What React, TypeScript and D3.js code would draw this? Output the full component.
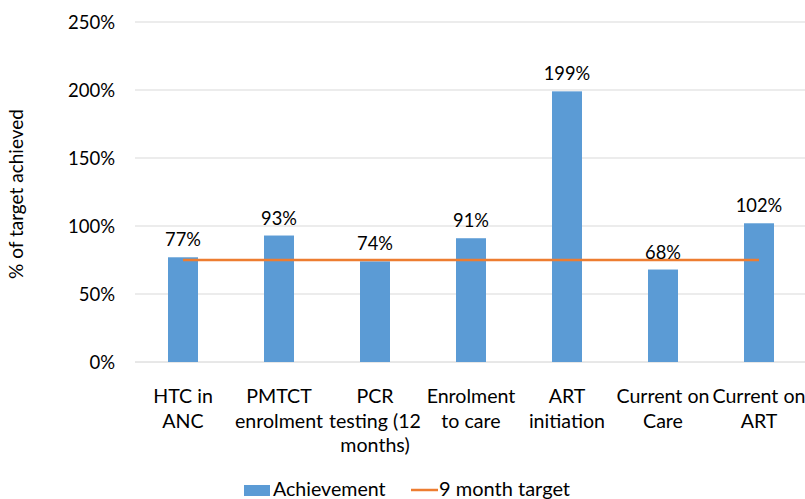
import * as d3 from "d3";

const categories = [
    "HTC in\nANC",
    "PMTCT\nenrolment",
    "PCR\ntesting (12\nmonths)",
    "Enrolment\nto care",
    "ART\ninitiation",
    "Current on\nCare",
    "Current on\nART",
];
const achievement = [77, 93, 74, 91, 199, 68, 102];
const target = [75, 75, 75, 75, 75, 75, 75];
const yTicks = [0, 50, 100, 150, 200, 250];

const font = "Lato, 'Open Sans', sans-serif";

function App() {
    const width = 805
    const height = 499
    const plot = { left: 135, right: 807, top: 22, bottom: 362 }

    const x = d3.scaleBand().domain(categories).range([plot.left, plot.right]).padding(0)
    const y = d3.scaleLinear().domain([0, 250]).range([plot.bottom, plot.top])
    const barWidth = x.bandwidth() * 0.3125
    const center = (c: string) => x(c)! + x.bandwidth() / 2

    const targetLine = d3.line<number>()
        .x((_, i) => center(categories[i]))
        .y((d) => y(d))

    return (
        <svg width={width} height={height} style={{ position: "absolute", left: 0, top: 0, background: "#ffffff" }} fontFamily={font}>
            {yTicks.map((t) => (
                <g key={t}>
                    <line x1={plot.left} x2={plot.right} y1={y(t)} y2={y(t)} stroke={t === 0 ? "#d0d0d0" : "#d9d9d9"} strokeWidth={1}/>
                    <text x={115} y={y(t)} dy="0.36em" textAnchor="end" fontSize={18.5} fill="#000">{t}%</text>
                </g>
            ))}

            {categories.map((c, i) => (
                <rect key={c} x={center(c) - barWidth / 2} y={y(achievement[i])} width={barWidth} height={y(0) - y(achievement[i])} fill="#5b9bd5"/>
            ))}

            <path d={targetLine(target)!} fill="none" stroke="#ed7d31" strokeWidth={2.5}/>

            {categories.map((c, i) => (
                <text key={c} x={center(c)} y={y(achievement[i]) - 11} textAnchor="middle" fontSize={18.3}>{achievement[i]}%</text>
            ))}

            {categories.map((c) => (
                <text key={c} x={center(c)} y={403} textAnchor="middle" fontSize={19.6}>
                    {c.split("\n").map((line, j) => (
                        <tspan key={j} x={center(c)} y={403 + j * 24.5}>{line}</tspan>
                    ))}
                </text>
            ))}

            <text transform={`translate(23, 194) rotate(-90)`} textAnchor="middle" fontSize={19}>% of target achieved</text>

            {/* Legend */}
            <rect x={244} y={485} width={26} height={11} fill="#5b9bd5"/>
            <text x={273} y={496} fontSize={19.6}>Achievement</text>
            <line x1={411} x2={438} y1={490} y2={490} stroke="#ed7d31" strokeWidth={2.5}/>
            <text x={439} y={496} fontSize={20}>9 month target</text>
        </svg>
    )
}

export default App;
